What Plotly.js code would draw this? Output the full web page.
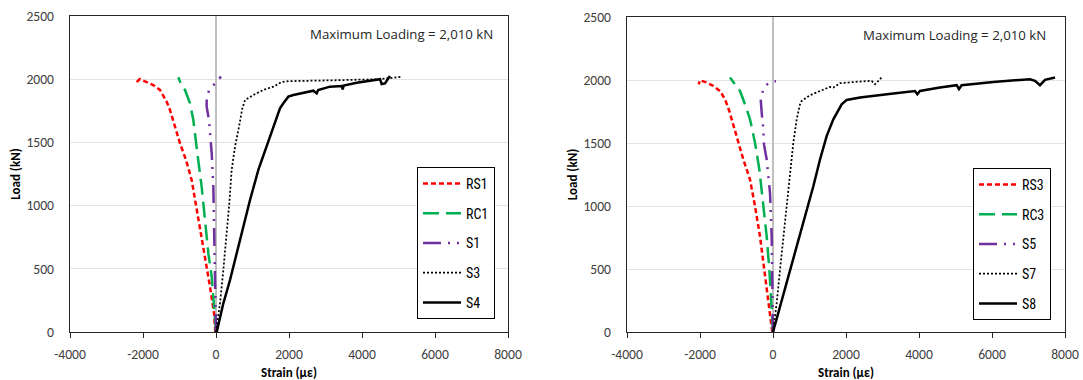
<!DOCTYPE html>
<html>
<head>
<meta charset="utf-8">
<script src="https://cdn.plot.ly/plotly-3.0.1.min.js"></script>
<style>html,body{margin:0;padding:0;background:#fff;}#chart{width:1083px;height:380px;}</style>
</head>
<body>
<div id="chart"></div>
<script>
// ---- Data (strain in µε, load in kN) ----
// Left chart
const RS1_strain = [-20, -55, -164, -256, -393, -530, -667, -822, -986, -1123, -1260, -1351, -1534, -1717, -1900, -2082, -2150, -2156];
const RS1_load   = [0, 150, 358, 517, 754, 991, 1203, 1361, 1493, 1624, 1756, 1822, 1915, 1954, 1980, 2001, 1985, 1967];
const RC1_strain = [0, -55, -118, -210, -301, -393, -511, -621, -712, -849, -968, -1032];
const RC1_load   = [0, 200, 438, 622, 886, 1150, 1414, 1677, 1809, 1915, 1967, 2015];
const S1_strain  = [0, -27, -55, -73, -118, -192, -256, -256, -183, -73, 19, 137];
const S1_load    = [0, 358, 754, 1150, 1414, 1677, 1783, 1862, 1915, 1954, 1980, 2020];
const S3_strain  = [0, 110, 201, 292, 365, 429, 521, 630, 722, 795, 1023, 1297, 1571, 1799, 2000, 3000, 4000, 4500, 4800, 5100];
const S3_load    = [0, 227, 490, 754, 1018, 1282, 1466, 1624, 1770, 1835, 1875, 1915, 1941, 1978, 1985, 1990, 1995, 2000, 2010, 2020];
const S4_strain  = [20, 201, 384, 566, 749, 932, 1160, 1388, 1571, 1753, 1845, 1982, 2119, 2484, 2667, 2758, 2800, 3123, 3443, 3470, 3500, 3854, 4310, 4493, 4539, 4630, 4721, 4767];
const S4_load    = [0, 227, 411, 622, 833, 1044, 1282, 1466, 1624, 1770, 1809, 1862, 1875, 1901, 1909, 1888, 1915, 1941, 1946, 1920, 1950, 1972, 1994, 2000, 1962, 1967, 2007, 2025];
// Right chart
const RS3_strain = [-20, -82, -173, -265, -356, -493, -630, -813, -950, -1087, -1197, -1315, -1452, -1635, -1817, -2000, -2036];
const RS3_load   = [0, 149, 361, 573, 759, 998, 1210, 1369, 1502, 1635, 1754, 1847, 1913, 1953, 1980, 1998, 1966];
const RC3_strain = [0, -36, -100, -173, -265, -374, -493, -630, -767, -904, -1041, -1178];
const RC3_load   = [0, 201, 494, 759, 1025, 1290, 1502, 1688, 1807, 1913, 1966, 2020];
const S5_strain  = [0, -9, -36, -82, -173, -247, -265, -310, -337, -265, -155, -36, 82];
const S5_load    = [0, 361, 759, 1104, 1369, 1489, 1608, 1741, 1847, 1927, 1966, 1988, 1990];
const S7_strain  = [0, 100, 192, 283, 374, 466, 557, 648, 740, 785, 1014, 1288, 1562, 1653, 1836, 2384, 2703, 2795, 2977];
const S7_load    = [0, 228, 494, 759, 1025, 1290, 1502, 1688, 1807, 1834, 1879, 1913, 1945, 1940, 1975, 1988, 1993, 1966, 2020];
const S8_strain  = [0, 192, 374, 557, 740, 922, 1105, 1288, 1470, 1653, 1790, 1882, 2019, 2384, 3297, 3890, 3954, 4027, 4575, 5032, 5096, 5169, 6036, 7041, 7178, 7315, 7452, 7726];
const S8_load    = [0, 201, 387, 573, 759, 945, 1157, 1369, 1555, 1688, 1767, 1807, 1842, 1861, 1892, 1913, 1887, 1913, 1940, 1959, 1927, 1959, 1985, 2006, 1993, 1959, 2001, 2020];

const xTickVals = [-4000, -2000, 0, 2000, 4000, 6000, 8000];
const xTickText = ['-4000', '-2000', '0', '2000', '4000', '6000', '8000'];
const yTickVals = [0, 500, 1000, 1500, 2000, 2500];
const annotationText = 'Maximum Loading = 2,010 kN';
const xTitle = 'Strain (με)';
const yTitle = 'Load (kN)';

// ---- Styles ----
const W = 1083, H = 380;
const styles = [
  {color: '#FF0000', width: 2.5, dash: '5px,3px'},
  {color: '#00B050', width: 2.5, dash: '16px,7px'},
  {color: '#7030A0', width: 2.5, dash: '18px,7px,2px,7px,2px,7px'},
  {color: '#000000', width: 1.75, dash: '2px,2px'},
  {color: '#000000', width: 2.5, dash: 'solid'}
];

const leftSeries = [
  ['RS1', RS1_strain, RS1_load], ['RC1', RC1_strain, RC1_load], ['S1', S1_strain, S1_load],
  ['S3', S3_strain, S3_load], ['S4', S4_strain, S4_load]
];
const rightSeries = [
  ['RS3', RS3_strain, RS3_load], ['RC3', RC3_strain, RC3_load], ['S5', S5_strain, S5_load],
  ['S7', S7_strain, S7_load], ['S8', S8_strain, S8_load]
];

const traces = [];
leftSeries.forEach((s, i) => traces.push({
  type: 'scatter', mode: 'lines', name: s[0], x: s[1], y: s[2],
  xaxis: 'x', yaxis: 'y', legend: 'legend', legendgroup: 'L' + i,
  line: {color: styles[i].color, width: styles[i].width, dash: styles[i].dash}
}));
rightSeries.forEach((s, i) => traces.push({
  type: 'scatter', mode: 'lines', name: s[0], x: s[1], y: s[2],
  xaxis: 'x2', yaxis: 'y2', legend: 'legend2', legendgroup: 'R' + i,
  line: {color: styles[i].color, width: styles[i].width, dash: styles[i].dash}
}));

const tickFont = {family: 'Carlito, Open Sans, sans-serif', size: 13.6, color: '#404040'};
const titleFont = {family: 'Carlito, Open Sans, sans-serif', size: 13, color: '#000', weight: 'bold'};
const xr = [-4000, 8000], yr = [0, 2500];

function xAxis(domain) {
  return {
    domain: domain, range: xr, tickmode: 'array', tickvals: xTickVals, ticktext: xTickText,
    ticks: 'outside', ticklen: 5, tickcolor: '#262626', tickwidth: 1,
    showline: true, mirror: true, linecolor: '#262626', linewidth: 1.3,
    showgrid: false, zeroline: true, zerolinecolor: '#BFBFBF', zerolinewidth: 2,
    tickfont: tickFont, ticklabelstandoff: 4, automargin: false,
    title: {text: xTitle, font: titleFont, standoff: 6}
  };
}
function yAxis(domain) {
  return {
    domain: domain, range: yr, tickmode: 'array', tickvals: yTickVals,
    ticks: '', showline: true, mirror: true, linecolor: '#262626', linewidth: 1.3,
    showgrid: true, gridcolor: '#E4E4E4', gridwidth: 1, zeroline: false,
    tickfont: tickFont, ticklabelstandoff: 12, automargin: false,
    title: {text: yTitle, font: titleFont, standoff: 3}
  };
}
function zeroTickAxis(overlay, xdom) {
  const pos = xdom[0] + (0 - xr[0]) / (xr[1] - xr[0]) * (xdom[1] - xdom[0]);
  return {
    overlaying: overlay, anchor: 'free', position: pos, range: yr,
    tickmode: 'array', tickvals: yTickVals, ticks: 'inside', ticklen: 4,
    tickcolor: '#BFBFBF', tickwidth: 1.5, showticklabels: false,
    showline: false, showgrid: false, zeroline: false, fixedrange: true
  };
}

const xd1 = [70 / W, 508 / W], xd2 = [627 / W, 1065 / W];
const yd1 = [1 - 332 / H, 1 - 16 / H], yd2 = [1 - 332 / H, 1 - 17 / H];

function legendCfg(xpx, ypx) {
  return {
    x: xpx / W, y: 1 - ypx / H, xanchor: 'left', yanchor: 'top',
    bgcolor: '#FFFFFF', bordercolor: '#000000', borderwidth: 1,
    font: {family: 'Roboto Condensed, Carlito, sans-serif', size: 14, color: '#000'},
    traceorder: 'grouped', tracegroupgap: 8.5, itemwidth: 38
  };
}

const annFont = {family: 'Open Sans, sans-serif', size: 13.25, color: '#262626'};
const layout = {
  width: W, height: H, margin: {l: 0, r: 0, t: 0, b: 0},
  paper_bgcolor: '#FFFFFF', plot_bgcolor: '#FFFFFF', showlegend: true,
  xaxis: Object.assign(xAxis(xd1), {anchor: 'y'}),
  yaxis: Object.assign(yAxis(yd1), {anchor: 'x'}),
  xaxis2: Object.assign(xAxis(xd2), {anchor: 'y2'}),
  yaxis2: Object.assign(yAxis(yd2), {anchor: 'x2'}),
  yaxis3: zeroTickAxis('y', xd1),
  yaxis4: zeroTickAxis('y2', xd2),
  legend: legendCfg(417, 167),
  legend2: legendCfg(973, 168),
  annotations: [
    {xref: 'paper', yref: 'paper', x: 495 / W, y: 1 - 34 / H, xanchor: 'right', yanchor: 'middle',
     text: annotationText, showarrow: false, font: annFont},
    {xref: 'paper', yref: 'paper', x: 1048 / W, y: 1 - 35 / H, xanchor: 'right', yanchor: 'middle',
     text: annotationText, showarrow: false, font: annFont}
  ]
};

Plotly.newPlot('chart', traces, layout, {displayModeBar: false, staticPlot: true});
</script>
</body>
</html>
